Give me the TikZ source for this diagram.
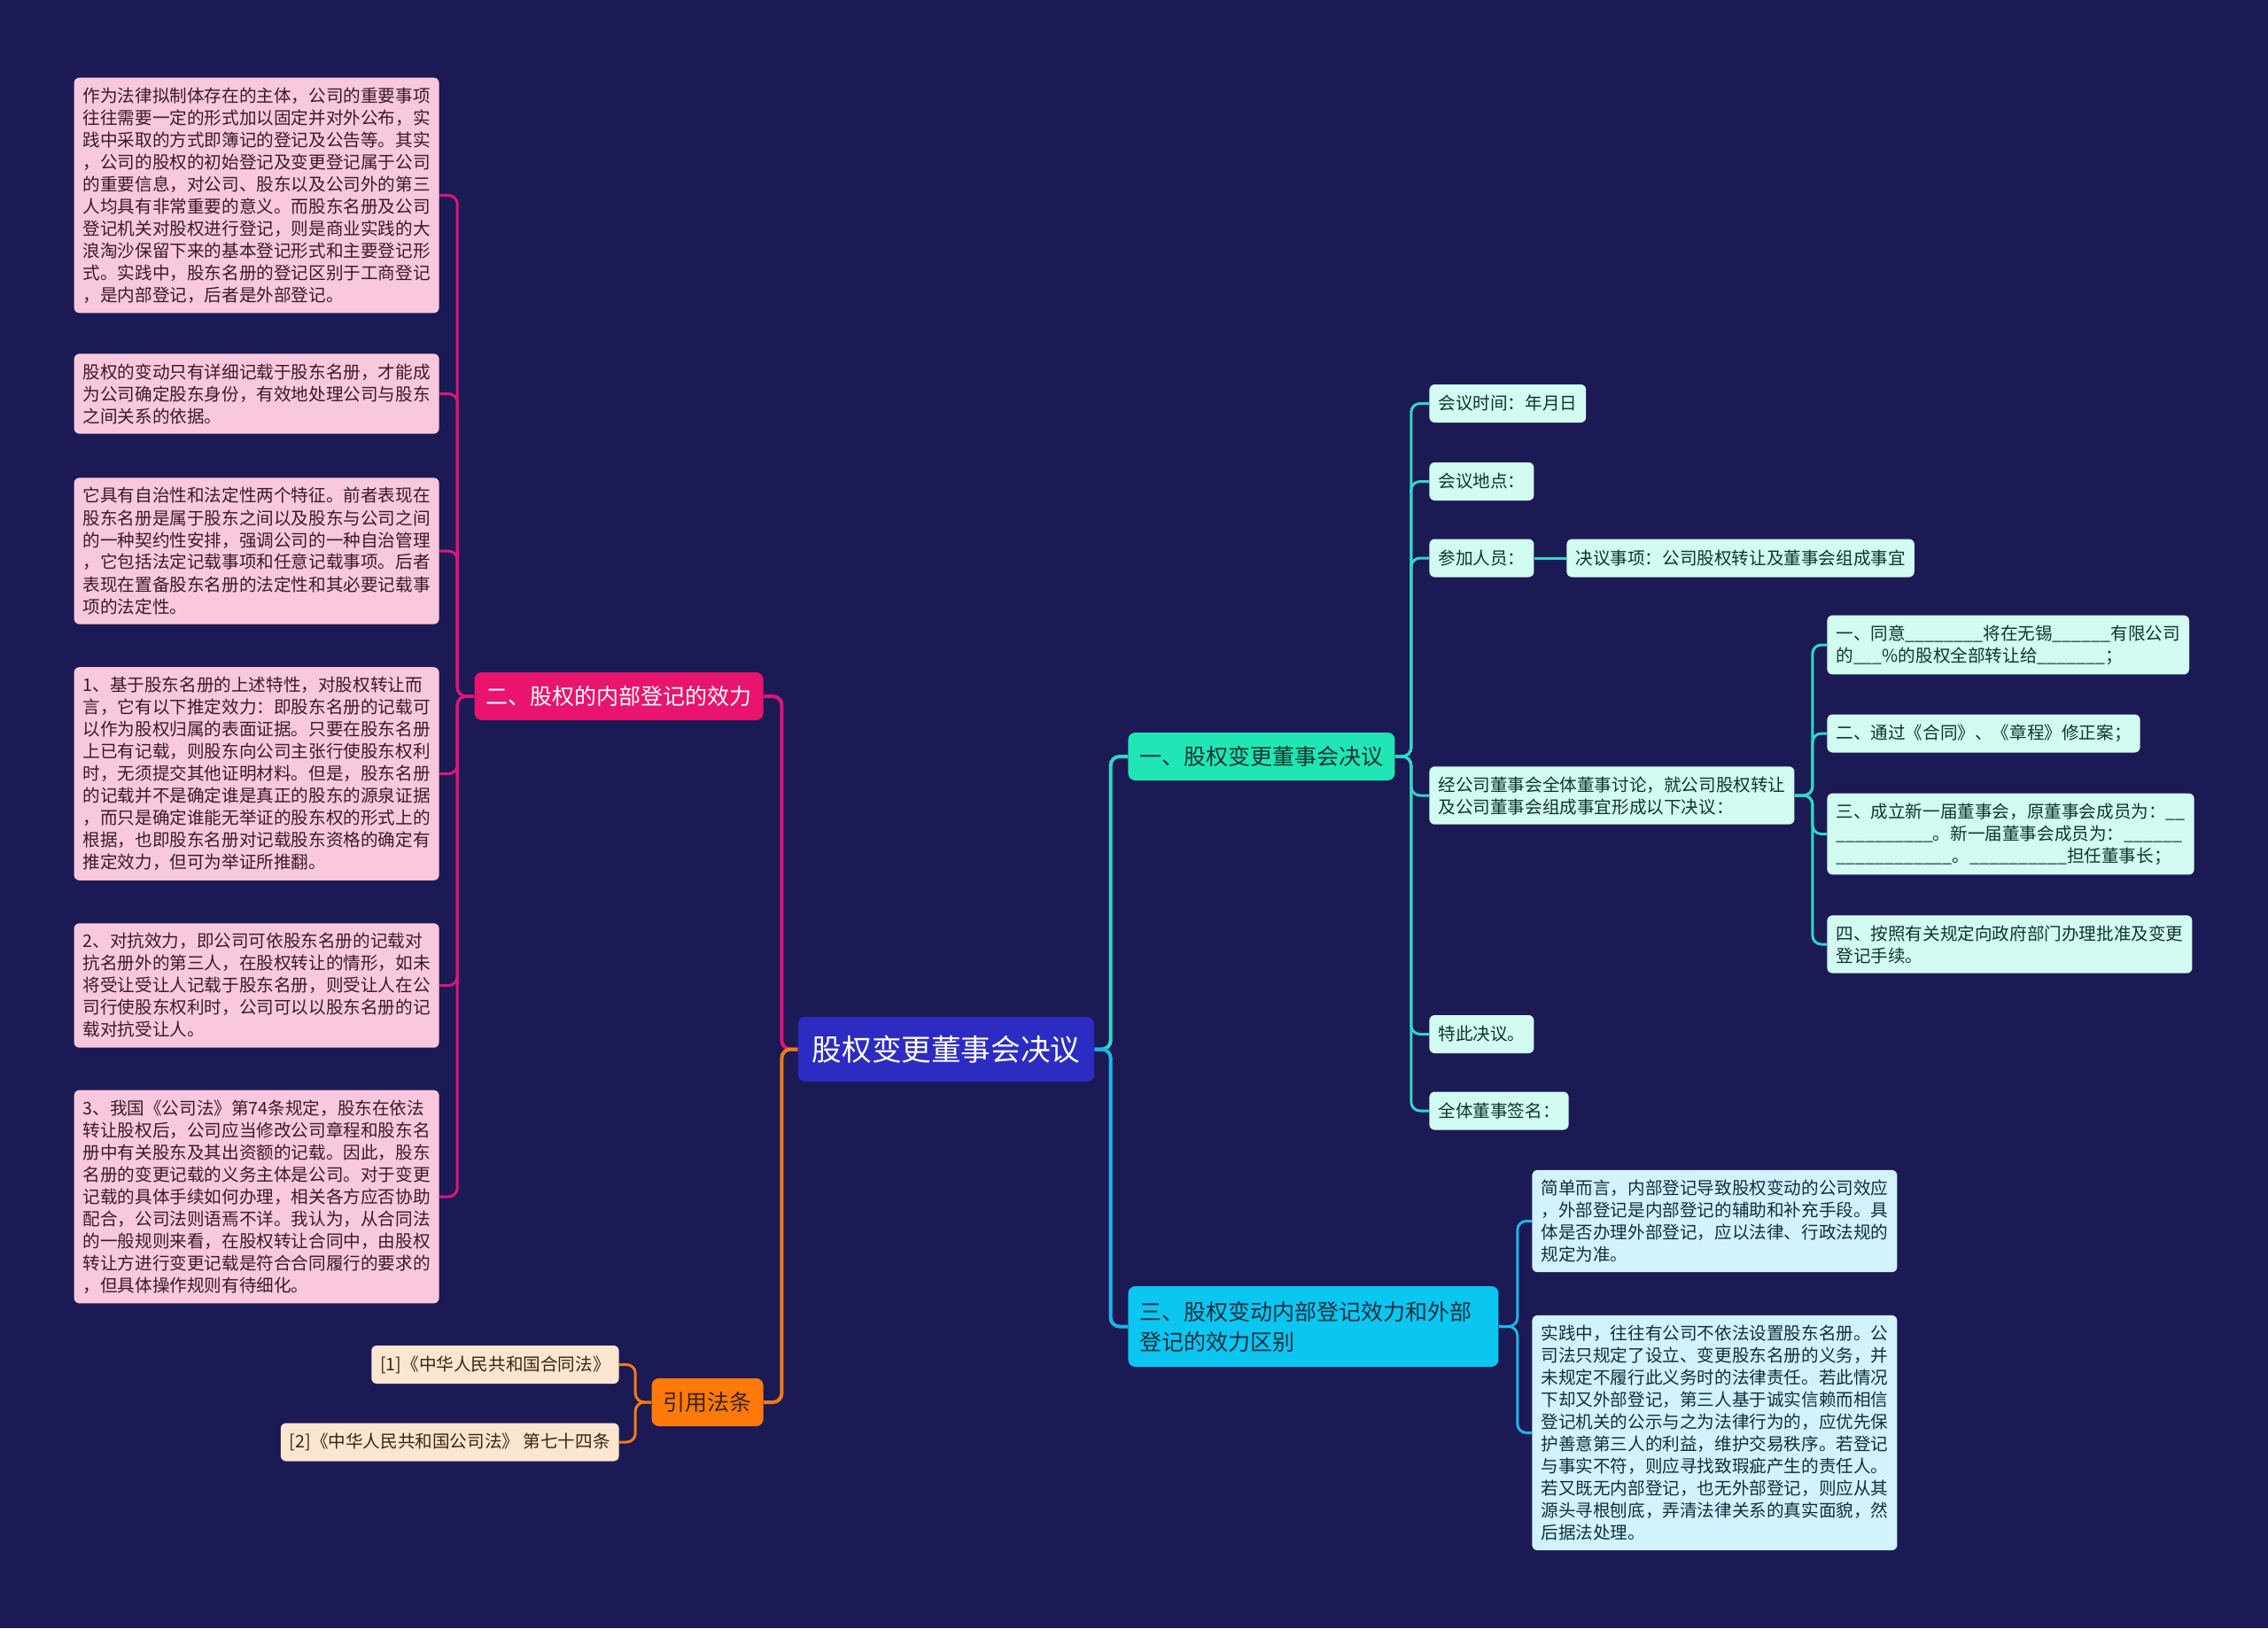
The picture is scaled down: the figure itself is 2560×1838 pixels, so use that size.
\documentclass[tikz,border=0pt]{standalone}
\usepackage{fontspec}
\setmainfont{Noto Sans CJK SC}
\usepackage{tikz}
\definecolor{bgnavy}{HTML}{1B1A54}
\definecolor{rootblue}{HTML}{2C2CC2}
\definecolor{magentabr}{HTML}{E8146E}
\definecolor{magentaln}{HTML}{E0147A}
\definecolor{leafpink}{HTML}{F9C8DD}
\definecolor{pinkink}{HTML}{3A1A2A}
\definecolor{orangebr}{HTML}{FF7A0A}
\definecolor{orangeln}{HTML}{F57C10}
\definecolor{citepeach}{HTML}{FDE6CF}
\definecolor{orangeink}{HTML}{3A2414}
\definecolor{tealbr}{HTML}{20E6B6}
\definecolor{tealln}{HTML}{30D8C6}
\definecolor{tealleaf}{HTML}{D2FBF1}
\definecolor{tealink}{HTML}{10352D}
\definecolor{bluebr}{HTML}{0AC6F0}
\definecolor{blueln}{HTML}{1CB6E6}
\definecolor{blueleaf}{HTML}{D2F3FB}
\definecolor{blueink}{HTML}{0F2F40}
\tikzset{
  rootbox/.style={
    fill=rootblue,
    text=white,
    rounded corners=4pt,
    inner xsep=8pt,
    minimum height=36.5pt,
    font=\fontsize{16.8}{20}\selectfont
  },
  branchbox/.style={
    rounded corners=4pt,
    align=left,
    inner xsep=6.5pt,
    minimum height=27pt,
    font=\fontsize{12.5}{17}\selectfont
  },
  leafbox/.style={
    rounded corners=3pt,
    align=left,
    inner xsep=5pt,
    inner ysep=5.5pt,
    minimum height=21.5pt,
    font=\fontsize{9.8}{12.5}\selectfont
  },
  pinkleaf/.style={leafbox, fill=leafpink, text=pinkink},
  citeleaf/.style={leafbox, fill=citepeach, text=orangeink},
  tealleafbox/.style={leafbox, fill=tealleaf, text=tealink},
  blueleafbox/.style={leafbox, fill=blueleaf, text=blueink},
  trunk/.style={line width=2pt, rounded corners=5pt},
  link/.style={line width=1.5pt, rounded corners=5pt}
}
\begin{document}
\begin{tikzpicture}[x=0.5pt, y=-0.5pt]
\fill[bgnavy] (0,0) rectangle (2560,1838);

\node[rootbox] (root) at (1068,1184.5) {股权变更董事会决议};

\node[branchbox, fill=magentabr, text=white, anchor=east] (inner) at (862,786) {二、股权的内部登记的效力};
\node[branchbox, fill=orangebr, text=orangeink, anchor=east] (cite) at (862,1583) {引用法条};
\node[branchbox, fill=tealbr, text=tealink, anchor=west] (meeting) at (1273,854) {一、股权变更董事会决议};
\node[branchbox, fill=bluebr, text=blueink, anchor=west, text width=196pt, minimum height=45.5pt] (diff) at (1273,1497.5) {三、股权变动内部登记效力和外部\\登记的效力区别};

\node[pinkleaf, anchor=east] (reg) at (496,220.5) {作为法律拟制体存在的主体，公司的重要事项\\往往需要一定的形式加以固定并对外公布，实\\践中采取的方式即簿记的登记及公告等。其实\\，公司的股权的初始登记及变更登记属于公司\\的重要信息，对公司、股东以及公司外的第三\\人均具有非常重要的意义。而股东名册及公司\\登记机关对股权进行登记，则是商业实践的大\\浪淘沙保留下来的基本登记形式和主要登记形\\式。实践中，股东名册的登记区别于工商登记\\，是内部登记，后者是外部登记。};
\node[pinkleaf, anchor=east] (roster) at (496,444.5) {股权的变动只有详细记载于股东名册，才能成\\为公司确定股东身份，有效地处理公司与股东\\之间关系的依据。};
\node[pinkleaf, anchor=east] (trait) at (496,622) {它具有自治性和法定性两个特征。前者表现在\\股东名册是属于股东之间以及股东与公司之间\\的一种契约性安排，强调公司的一种自治管理\\，它包括法定记载事项和任意记载事项。后者\\表现在置备股东名册的法定性和其必要记载事\\项的法定性。};
\node[pinkleaf, anchor=east] (presume) at (496,873.5) {1、基于股东名册的上述特性，对股权转让而\\言，它有以下推定效力：即股东名册的记载可\\以作为股权归属的表面证据。只要在股东名册\\上已有记载，则股东向公司主张行使股东权利\\时，无须提交其他证明材料。但是，股东名册\\的记载并不是确定谁是真正的股东的源泉证据\\，而只是确定谁能无举证的股东权的形式上的\\根据，也即股东名册对记载股东资格的确定有\\推定效力，但可为举证所推翻。};
\node[pinkleaf, anchor=east] (oppose) at (496,1112.5) {2、对抗效力，即公司可依股东名册的记载对\\抗名册外的第三人，在股权转让的情形，如未\\将受让受让人记载于股东名册，则受让人在公\\司行使股东权利时，公司可以以股东名册的记\\载对抗受让人。};
\node[pinkleaf, anchor=east] (duty) at (496,1351) {3、我国《公司法》第74条规定，股东在依法\\转让股权后，公司应当修改公司章程和股东名\\册中有关股东及其出资额的记载。因此，股东\\名册的变更记载的义务主体是公司。对于变更\\记载的具体手续如何办理，相关各方应否协助\\配合，公司法则语焉不详。我认为，从合同法\\的一般规则来看，在股权转让合同中，由股权\\转让方进行变更记载是符合合同履行的要求的\\，但具体操作规则有待细化。};

\node[citeleaf, anchor=east] (law1) at (699,1540.5) {[1]《中华人民共和国合同法》};
\node[citeleaf, anchor=east] (law2) at (699,1628) {[2]《中华人民共和国公司法》 第七十四条};

\node[tealleafbox, anchor=west] (time) at (1613,455.5) {会议时间：年月日};
\node[tealleafbox, anchor=west] (place) at (1613,543.5) {会议地点：};
\node[tealleafbox, anchor=west] (attend) at (1613,630) {参加人员：};
\node[tealleafbox, anchor=west] (matter) at (1768,630) {决议事项：公司股权转让及董事会组成事宜};
\node[tealleafbox, anchor=west] (discuss) at (1613,898) {经公司董事会全体董事讨论，就公司股权转让\\及公司董事会组成事宜形成以下决议：};
\node[tealleafbox, anchor=west] (agree) at (2062,728) {一、同意\_\_\_\_\_\_\_\_将在无锡\_\_\_\_\_\_有限公司\\的\_\_\_\%的股权全部转让给\_\_\_\_\_\_\_；};
\node[tealleafbox, anchor=west] (amend) at (2062,828) {二、通过《合同》、《章程》修正案；};
\node[tealleafbox, anchor=west] (board) at (2062,941.5) {三、成立新一届董事会，原董事会成员为：\_\_\\\_\_\_\_\_\_\_\_\_\_。新一届董事会成员为：\_\_\_\_\_\_\\\_\_\_\_\_\_\_\_\_\_\_\_。\_\_\_\_\_\_\_\_\_\_担任董事长；};
\node[tealleafbox, anchor=west] (approve) at (2062,1066) {四、按照有关规定向政府部门办理批准及变更\\登记手续。};
\node[tealleafbox, anchor=west] (hereby) at (1613,1167.5) {特此决议。};
\node[tealleafbox, anchor=west] (sign) at (1613,1254) {全体董事签名：};

\node[blueleafbox, anchor=west] (brief) at (1729,1378.5) {简单而言，内部登记导致股权变动的公司效应\\，外部登记是内部登记的辅助和补充手段。具\\体是否办理外部登记，应以法律、行政法规的\\规定为准。};
\node[blueleafbox, anchor=west] (practice) at (1729,1617.5) {实践中，往往有公司不依法设置股东名册。公\\司法只规定了设立、变更股东名册的义务，并\\未规定不履行此义务时的法律责任。若此情况\\下却又外部登记，第三人基于诚实信赖而相信\\登记机关的公示与之为法律行为的，应优先保\\护善意第三人的利益，维护交易秩序。若登记\\与事实不符，则应寻找致瑕疵产生的责任人。\\若又既无内部登记，也无外部登记，则应从其\\源头寻根刨底，弄清法律关系的真实面貌，然\\后据法处理。};

\draw[trunk, draw=magentaln] (root.west) -- ++(-18,0) |- (inner.east);
\draw[trunk, draw=orangeln] (root.west) -- ++(-18,0) |- (cite.east);
\draw[trunk, draw=tealln] (root.east) -- ++(18,0) |- (meeting.west);
\draw[trunk, draw=blueln] (root.east) -- ++(18,0) |- (diff.west);

\draw[link, draw=magentaln] (inner.west) -- ++(-19,0) |- (reg.east);
\draw[link, draw=magentaln] (inner.west) -- ++(-19,0) |- (roster.east);
\draw[link, draw=magentaln] (inner.west) -- ++(-19,0) |- (trait.east);
\draw[link, draw=magentaln] (inner.west) -- ++(-19,0) |- (presume.east);
\draw[link, draw=magentaln] (inner.west) -- ++(-19,0) |- (oppose.east);
\draw[link, draw=magentaln] (inner.west) -- ++(-19,0) |- (duty.east);

\draw[link, draw=orangeln] (cite.west) -- ++(-18,0) |- (law1.east);
\draw[link, draw=orangeln] (cite.west) -- ++(-18,0) |- (law2.east);

\draw[link, draw=tealln] (meeting.east) -- ++(18,0) |- (time.west);
\draw[link, draw=tealln] (meeting.east) -- ++(18,0) |- (place.west);
\draw[link, draw=tealln] (meeting.east) -- ++(18,0) |- (attend.west);
\draw[link, draw=tealln] (meeting.east) -- ++(18,0) |- (discuss.west);
\draw[link, draw=tealln] (meeting.east) -- ++(18,0) |- (hereby.west);
\draw[link, draw=tealln] (meeting.east) -- ++(18,0) |- (sign.west);
\draw[link, draw=tealln] (attend.east) -- (matter.west);

\draw[link, draw=tealln] (discuss.east) -- ++(20,0) |- (agree.west);
\draw[link, draw=tealln] (discuss.east) -- ++(20,0) |- (amend.west);
\draw[link, draw=tealln] (discuss.east) -- ++(20,0) |- (board.west);
\draw[link, draw=tealln] (discuss.east) -- ++(20,0) |- (approve.west);

\draw[link, draw=blueln] (diff.east) -- ++(21,0) |- (brief.west);
\draw[link, draw=blueln] (diff.east) -- ++(21,0) |- (practice.west);
\end{tikzpicture}
\end{document}
